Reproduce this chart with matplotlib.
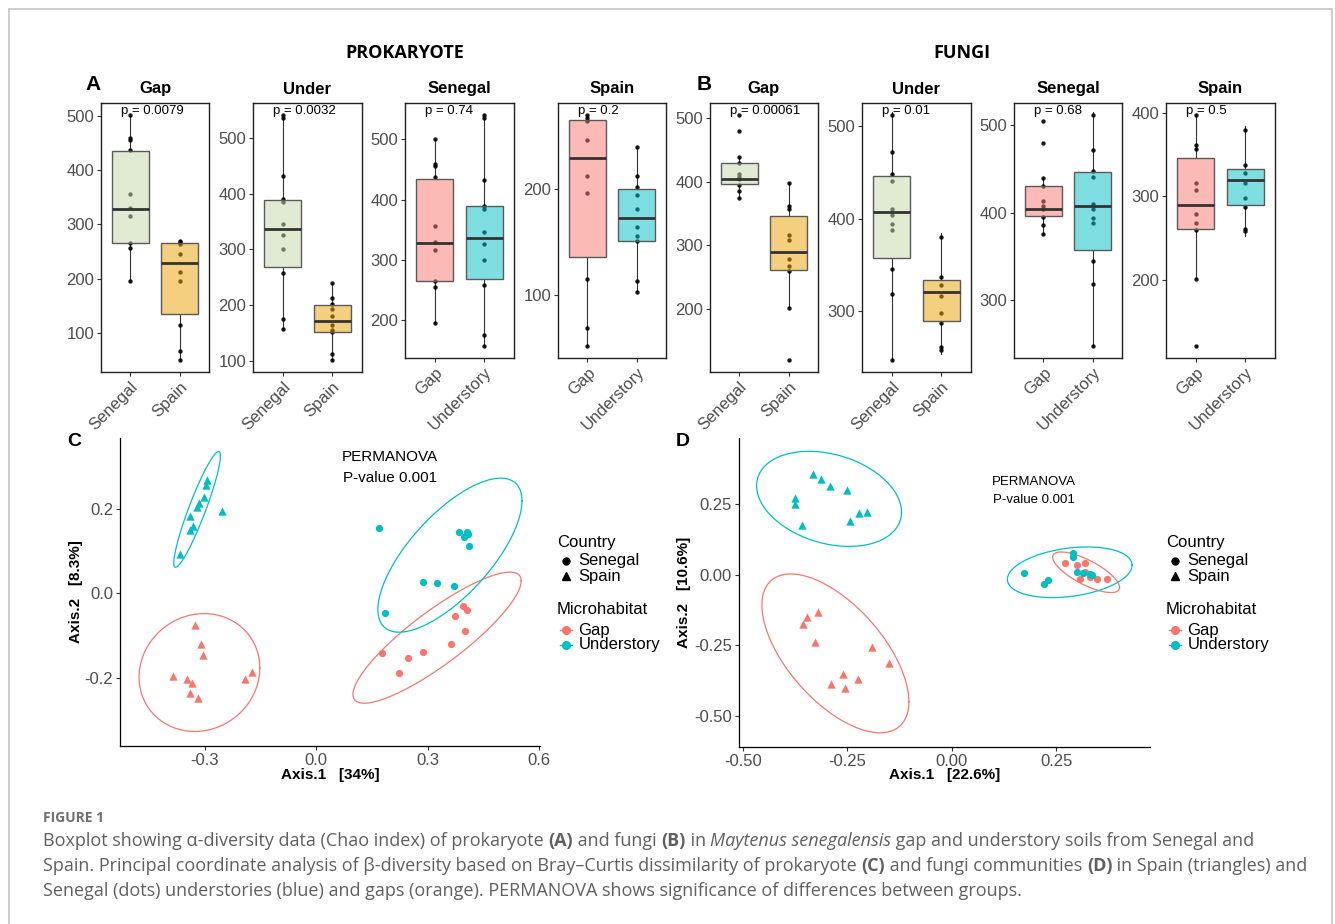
import numpy as np
import matplotlib
matplotlib.use('Agg')
import matplotlib.pyplot as plt
from matplotlib.lines import Line2D
from matplotlib.patches import Rectangle
from matplotlib.ticker import MultipleLocator
from matplotlib.colors import to_rgba

W, H = 1335, 924
plt.rcParams['font.family'] = ['Liberation Sans', 'DejaVu Sans']
plt.rcParams['axes.unicode_minus'] = False

# ---- alpha diversity (Chao index), points and box stats (q1, median, q3, lower whisker, upper whisker)
prok_sen_gap = [501, 459, 456, 437, 356, 330, 316, 266, 256, 196]
prok_sen_und = [541, 536, 432, 390, 385, 346, 326, 300, 258, 176, 157]
prok_spa_gap = [270, 267, 264, 246, 212, 196, 115, 68, 51]
prok_spa_und = [239, 212, 202, 194, 181, 164, 155, 151, 113, 102]
fun_sen_gap = [505, 480, 440, 430, 413, 408, 404, 395, 386, 375]
fun_sen_und = [512, 472, 448, 441, 410, 404, 394, 388, 345, 318, 247]
fun_spa_gap = [398, 362, 357, 316, 308, 279, 268, 259, 201, 120]
fun_spa_und = [380, 337, 328, 316, 298, 287, 261, 258]

prok_sen_gap_box = [266, 329, 435, 196, 501]
prok_sen_und_box = [268, 336, 389, 157, 542]
prok_spa_gap_box = [135, 229, 265, 51, 270]
prok_spa_und_box = [151, 172, 200, 102, 239]
fun_sen_gap_box = [396, 404, 430, 374, 440]
fun_sen_und_box = [357, 407, 446, 247, 515]
fun_spa_gap_box = [261, 290, 346, 201, 399]
fun_spa_und_box = [289, 320, 333, 253, 384]

titles = ['Gap', 'Under', 'Senegal', 'Spain']
country_labels = ['Senegal', 'Spain']
habitat_labels = ['Gap', 'Understory']
prok_p = ['p = 0.0079', 'p = 0.0032', 'p = 0.74', 'p = 0.2']
fun_p = ['p = 0.00061', 'p = 0.01', 'p = 0.68', 'p = 0.5']

# ---- PCoA coordinates
c_spa_und_x = [-0.295, -0.296, -0.302, -0.316, -0.322, -0.339, -0.333, -0.341, -0.367, -0.254]
c_spa_und_y = [0.267, 0.256, 0.227, 0.213, 0.204, 0.182, 0.160, 0.149, 0.093, 0.195]
c_spa_gap_x = [-0.328, -0.312, -0.305, -0.387, -0.348, -0.336, -0.339, -0.320, -0.193, -0.173]
c_spa_gap_y = [-0.075, -0.119, -0.145, -0.194, -0.202, -0.210, -0.235, -0.247, -0.202, -0.185]
c_sen_und_x = [0.169, 0.385, 0.405, 0.399, 0.408, 0.412, 0.287, 0.325, 0.370, 0.186]
c_sen_und_y = [0.154, 0.144, 0.145, 0.133, 0.139, 0.112, 0.026, 0.024, 0.017, -0.046]
c_sen_gap_x = [0.396, 0.407, 0.373, 0.400, 0.362, 0.288, 0.246, 0.176, 0.224]
c_sen_gap_y = [-0.030, -0.040, -0.054, -0.089, -0.118, -0.138, -0.152, -0.141, -0.187]

d_spa_und_x = [-0.333, -0.314, -0.292, -0.251, -0.375, -0.376, -0.359, -0.243, -0.222, -0.204]
d_spa_und_y = [0.357, 0.338, 0.313, 0.298, 0.272, 0.249, 0.176, 0.190, 0.218, 0.221]
d_spa_gap_x = [-0.320, -0.347, -0.356, -0.329, -0.192, -0.151, -0.261, -0.224, -0.290, -0.257]
d_spa_gap_y = [-0.133, -0.150, -0.176, -0.237, -0.256, -0.312, -0.350, -0.367, -0.388, -0.400]
d_sen_und_x = [0.291, 0.291, 0.172, 0.220, 0.230, 0.300, 0.315, 0.332, 0.336]
d_sen_und_y = [0.076, 0.062, 0.006, -0.032, -0.020, 0.009, 0.006, 0.001, -0.002]
d_sen_gap_x = [0.272, 0.300, 0.319, 0.320, 0.308, 0.332, 0.347, 0.371]
d_sen_gap_y = [0.042, 0.035, 0.042, 0.009, -0.014, -0.008, -0.016, -0.014]

RED, CYAN = '#F8766D', '#00BFC4'
GREEN, ORANGE = '#c5d9a8', '#e8a000'
GREY = '#4d4d4d'

fig = plt.figure(figsize=(W / 100, H / 100), dpi=100)


def rect(l, t, r, b):
    return [l / W, 1 - b / H, (r - l) / W, (b - t) / H]


def fx(x):
    return x / W


def fy(y):
    return 1 - y / H


# outer frame
fig.add_artist(Rectangle((fx(9), fy(940)), (1332 - 9) / W, (940 - 9) / H, fill=False,
                         ec='#c4c4c4', lw=1.2, transform=fig.transFigure))

# ---------------- box plots ----------------
box_panels = [
    ((101, 103, 209, 372), 0, country_labels, [(prok_sen_gap, prok_sen_gap_box), (prok_spa_gap, prok_spa_gap_box)], [GREEN, ORANGE], prok_p[0]),
    ((253, 103, 362, 372), 1, country_labels, [(prok_sen_und, prok_sen_und_box), (prok_spa_und, prok_spa_und_box)], [GREEN, ORANGE], prok_p[1]),
    ((405, 103, 514, 358), 2, habitat_labels, [(prok_sen_gap, prok_sen_gap_box), (prok_sen_und, prok_sen_und_box)], [RED, CYAN], prok_p[2]),
    ((558, 103, 666, 358), 3, habitat_labels, [(prok_spa_gap, prok_spa_gap_box), (prok_spa_und, prok_spa_und_box)], [RED, CYAN], prok_p[3]),
    ((710, 103, 818, 372), 0, country_labels, [(fun_sen_gap, fun_sen_gap_box), (fun_spa_gap, fun_spa_gap_box)], [GREEN, ORANGE], fun_p[0]),
    ((862, 103, 971, 372), 1, country_labels, [(fun_sen_und, fun_sen_und_box), (fun_spa_und, fun_spa_und_box)], [GREEN, ORANGE], fun_p[1]),
    ((1014, 103, 1122, 358), 2, habitat_labels, [(fun_sen_gap, fun_sen_gap_box), (fun_sen_und, fun_sen_und_box)], [RED, CYAN], fun_p[2]),
    ((1166, 103, 1275, 358), 3, habitat_labels, [(fun_spa_gap, fun_spa_gap_box), (fun_spa_und, fun_spa_und_box)], [RED, CYAN], fun_p[3]),
]

for rc, ti, cats, groups, cols, ptxt in box_panels:
    ax = fig.add_axes(rect(*rc))
    stats = []
    allv = []
    for i, (pts, bx) in enumerate(groups):
        ax.scatter(np.full(len(pts), i + 1), pts, s=10, color='black', alpha=0.9, lw=0, zorder=2)
        stats.append(dict(q1=bx[0], med=bx[1], q3=bx[2], whislo=bx[3], whishi=bx[4], fliers=[]))
        allv += pts
    bp = ax.bxp(stats, positions=[1, 2], widths=0.75, patch_artist=True, showcaps=False,
                showfliers=False,
                boxprops=dict(edgecolor='#5a5a5a', lw=1.0, zorder=3),
                medianprops=dict(color='#333333', lw=2, zorder=4),
                whiskerprops=dict(color='#333333', lw=0.8, zorder=1.5))
    for patch, c in zip(bp['boxes'], cols):
        patch.set_facecolor(to_rgba(c, 0.5))
    lo, hi = min(allv), max(allv)
    pad = 0.05 * (hi - lo)
    ax.set_ylim(lo - pad, hi + pad)
    ax.set_xlim(0.4, 2.6)
    ax.yaxis.set_major_locator(MultipleLocator(100))
    ax.set_xticks([1, 2])
    ax.set_xticklabels(cats, rotation=45, ha='right', rotation_mode='anchor')
    ax.tick_params(labelsize=12, labelcolor=GREY, length=3, width=0.8, color='#333333', pad=2)
    for sp in ax.spines.values():
        sp.set_linewidth(1.0)
        sp.set_color('#222222')
    hgt = rc[3] - rc[1]
    ax.text(0.8, 1 - 8 / hgt, ptxt, transform=ax.get_xaxis_transform(), fontsize=9.5,
            ha='left', va='center', zorder=5)
    fig.text(fx((rc[0] + rc[2]) / 2), fy(89), titles[ti], fontsize=12, fontweight='bold',
             ha='center', va='center')

fig.text(fx(405), fy(53), 'PROKARYOTE', family=['Open Sans', 'DejaVu Sans'], fontsize=13,
         fontweight='bold', ha='center', va='center')
fig.text(fx(962), fy(53), 'FUNGI', family=['Open Sans', 'DejaVu Sans'], fontsize=13,
         fontweight='bold', ha='center', va='center')
fig.text(fx(93), fy(84), 'A', fontsize=15, fontweight='bold', ha='center', va='center')
fig.text(fx(704), fy(84), 'B', fontsize=15, fontweight='bold', ha='center', va='center')


# ---------------- PCoA ----------------
def cov_trob(xy, nu=5, maxit=25, tol=0.01):
    n, p = xy.shape
    loc = xy.mean(0)
    w = np.ones(n)
    for _ in range(maxit):
        w0 = w
        X = xy - loc
        sw = np.sqrt(w / w.sum())
        _, d, vt = np.linalg.svd(sw[:, None] * X, full_matrices=False)
        wX = X @ vt.T @ np.diag(1 / d)
        Q = (wX ** 2).sum(1)
        w = (nu + p) / (nu + Q)
        loc = (w[:, None] * xy).sum(0) / w.sum()
        if np.all(np.abs(w - w0) < tol):
            break
    sX = np.sqrt(w)[:, None] * X
    return loc, sX.T @ sX / n


def ellipse(xs, ys, level=0.95, seg=120):
    xy = np.column_stack([xs, ys])
    center, shape = cov_trob(xy)
    d2 = len(xs) - 1
    f = d2 / 2 * ((1 - level) ** (-2 / d2) - 1)
    radius = np.sqrt(2 * f)
    t = np.linspace(0, 2 * np.pi, seg + 1)
    circ = np.column_stack([np.cos(t), np.sin(t)])
    L = np.linalg.cholesky(shape)
    e = center + radius * circ @ L.T
    return e[:, 0], e[:, 1]


pc_panels = [
    dict(rc=(120, 438, 540, 746), xlim=(-0.529, 0.603), ylim=(-0.359, 0.366),
         xt=[-0.3, 0.0, 0.3, 0.6], yt=[-0.2, 0.0, 0.2], fmt='%.1f',
         xlab='Axis.1   [34%]', ylab='Axis.2   [8.3%]', ylx=76, letter='C', lx=74,
         groups=[(c_sen_gap_x, c_sen_gap_y, 'o', RED), (c_sen_und_x, c_sen_und_y, 'o', CYAN),
                 (c_spa_gap_x, c_spa_gap_y, '^', RED), (c_spa_und_x, c_spa_und_y, '^', CYAN)],
         perm=(390, 457, 478, 11), leg=557),
    dict(rc=(739, 438, 1150, 747), xlim=(-0.51, 0.475), ylim=(-0.609, 0.483),
         xt=[-0.5, -0.25, 0.0, 0.25], yt=[-0.5, -0.25, 0.0, 0.25], fmt='%.2f',
         xlab='Axis.1   [22.6%]', ylab='Axis.2   [10.6%]', ylx=684, letter='D', lx=683,
         groups=[(d_sen_gap_x, d_sen_gap_y, 'o', RED), (d_sen_und_x, d_sen_und_y, 'o', CYAN),
                 (d_spa_gap_x, d_spa_gap_y, '^', RED), (d_spa_und_x, d_spa_und_y, '^', CYAN)],
         perm=(1034, 482, 500, 9.5), leg=1166),
]

for pc in pc_panels:
    l, t, r, b = pc['rc']
    ax = fig.add_axes(rect(l, t, r, b))
    for xs, ys, mk, col in pc['groups']:
        ax.scatter(xs, ys, marker=mk, s=36 if mk == '^' else 27, color=col, lw=0, zorder=3)
        ex, ey = ellipse(xs, ys)
        ax.plot(ex, ey, color=col, lw=0.9, zorder=2)
    ax.set_xlim(*pc['xlim'])
    ax.set_ylim(*pc['ylim'])
    ax.set_xticks(pc['xt'])
    ax.set_yticks(pc['yt'])
    ax.set_xticklabels([pc['fmt'] % v for v in pc['xt']])
    ax.set_yticklabels([pc['fmt'] % v for v in pc['yt']])
    ax.tick_params(labelsize=12, labelcolor=GREY, length=3, width=0.8, color='#333333', pad=2)
    for s in ['top', 'right']:
        ax.spines[s].set_visible(False)
    for s in ['left', 'bottom']:
        ax.spines[s].set_linewidth(0.9)
    ax.set_xlabel(pc['xlab'], fontsize=11, fontweight='bold', va='center')
    ax.xaxis.set_label_coords(0.5, (b - 775) / (b - t))
    ax.set_ylabel(pc['ylab'], fontsize=11, fontweight='bold', va='center')
    ax.yaxis.set_label_coords((pc['ylx'] - l) / (r - l), 0.5)
    fig.text(fx(pc['lx']), fy(442), pc['letter'], fontsize=14, fontweight='bold',
             ha='center', va='center')
    px, py1, py2, pfs = pc['perm']
    fig.text(fx(px), fy(py1), 'PERMANOVA', fontsize=pfs, ha='center', va='center')
    fig.text(fx(px), fy(py2), 'P-value 0.001', fontsize=pfs, ha='center', va='center')

    # legends
    lx0 = pc['leg']
    mx, tx = lx0 + 8.5, lx0 + 21.5
    fig.text(fx(lx0), fy(542), 'Country', fontsize=12, ha='left', va='center')
    for lab, mk, yy in zip(country_labels, ['o', '^'], [561, 576]):
        fig.add_artist(Line2D([fx(mx)], [fy(yy)], marker=mk, ms=5 if mk == 'o' else 6,
                              color='black', ls='', transform=fig.transFigure))
        fig.text(fx(tx), fy(yy), lab, fontsize=12, ha='left', va='center')
    fig.text(fx(lx0), fy(610), 'Microhabitat', fontsize=12, ha='left', va='center')
    for lab, col, yy in zip(habitat_labels, [RED, CYAN], [630, 645]):
        fig.add_artist(Line2D([fx(mx - 6), fx(mx + 6)], [fy(yy), fy(yy)], color=col, lw=1,
                              transform=fig.transFigure))
        fig.add_artist(Line2D([fx(mx)], [fy(yy)], marker='o', ms=5.5, color=col, ls='',
                              transform=fig.transFigure))
        fig.text(fx(tx), fy(yy), lab, fontsize=12, ha='left', va='center')

# ---------------- caption ----------------
renderer = fig.canvas.get_renderer()
cap_font = ['Open Sans', 'DejaVu Sans']


def seg_width(s, kw):
    t1 = fig.text(0, 0, s + '|', **kw)
    t2 = fig.text(0, 0, '|', **kw)
    w = t1.get_window_extent(renderer).width - t2.get_window_extent(renderer).width
    t1.remove()
    t2.remove()
    return w


caption_lines = [
    [('Boxplot showing α-diversity data (Chao index) of prokaryote ', 'n'), ('(A)', 'b'),
     (' and fungi ', 'n'), ('(B)', 'b'), (' in ', 'n'), ('Maytenus senegalensis', 'i'),
     (' gap and understory soils from Senegal and', 'n')],
    [('Spain. Principal coordinate analysis of β-diversity based on Bray–Curtis dissimilarity of prokaryote ', 'n'),
     ('(C)', 'b'), (' and fungi communities ', 'n'), ('(D)', 'b'), (' in Spain (triangles) and', 'n')],
    [('Senegal (dots) understories (blue) and gaps (orange). PERMANOVA shows significance of differences between groups.', 'n')],
]
baselines = [846, 871, 896]


def style_kw(st, size):
    kw = dict(family=cap_font, fontsize=size, color='#606060')
    if st == 'b':
        kw['fontweight'] = 'bold'
    elif st == 'i':
        kw['style'] = 'italic'
    return kw


# fit the first caption line to the width it has in the reference
base = 11.5
w1 = sum(seg_width(txt, style_kw(st, base)) for txt, st in caption_lines[0])
cap_size = base * (1262 - 43) / w1

fig.text(fx(43), fy(822), 'FIGURE 1', family=cap_font, fontsize=10, fontweight='bold',
         color='#707070', ha='left', va='baseline')
for parts, yb in zip(caption_lines, baselines):
    x = 43
    for txt, st in parts:
        kw = style_kw(st, cap_size)
        fig.text(fx(x), fy(yb), txt, ha='left', va='baseline', **kw)
        x += seg_width(txt, kw)

fig.savefig('out.png', dpi=100)
